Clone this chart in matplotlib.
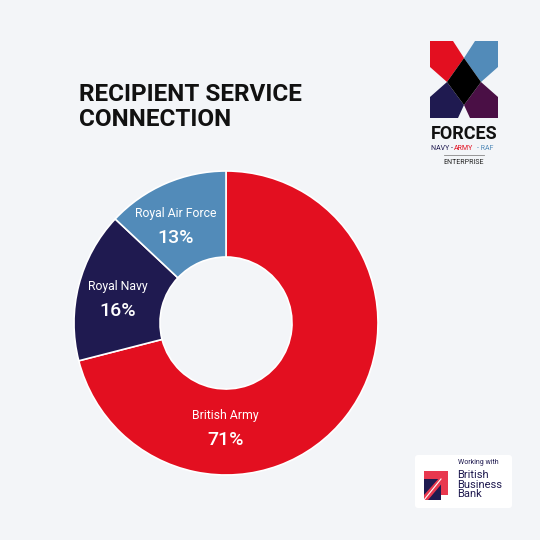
import numpy as np
import matplotlib
matplotlib.use("agg")
from matplotlib import pyplot as plt
from matplotlib.patches import Polygon, FancyBboxPatch, Rectangle

plt.rcParams['font.family'] = ['Roboto', 'DejaVu Sans']

# data
services = ["British Army", "Royal Navy", "Royal Air Force"]
shares = [71, 16, 13]
colors = ["#E30F20", "#1F1A50", "#528BB9"]
# label positions inside the ring (fraction of outer radius)
label_pos = [(-0.005, -0.61), (-0.71, 0.24), (-0.33, 0.72)]

bg = "#F3F5F8"
W = 540

fig = plt.figure(figsize=(5.4, 5.4), dpi=100)
fig.patch.set_facecolor(bg)

# overlay in pixel coordinates for title and logos
ov = fig.add_axes([0, 0, 1, 1])
ov.set_xlim(0, W)
ov.set_ylim(W, 0)
ov.axis("off")
ov.set_facecolor("none")

ov.text(79, 107, "RECIPIENT SERVICE\nCONNECTION", fontsize=17.5, fontweight="semibold",
        color="#111111", va="center", ha="left", linespacing=1.15)

# donut
cx, cy, R = 226, 323, 152
pad = 160
ax = fig.add_axes([(cx - pad) / W, (W - cy - pad) / W, 2 * pad / W, 2 * pad / W])
ax.pie(shares, colors=colors, startangle=90, counterclock=False, radius=1,
       wedgeprops=dict(width=1 - 66 / R, edgecolor="white", linewidth=1.2))
lim = pad / R
ax.set_xlim(-lim, lim)
ax.set_ylim(-lim, lim)
ax.set_aspect("equal")
ax.axis("off")
for name, val, (lx, ly) in zip(services, shares, label_pos):
    ax.text(lx, ly, name, ha="center", va="center", color="white", fontsize=8.8)
    ax.text(lx, ly - 0.16, f"{val}%", ha="center", va="center", color="white",
            fontsize=14, fontweight="medium")

# X FORCES logo
ov.add_patch(Polygon([(430, 41), (453, 41), (464, 58), (447, 82), (430, 67)],
                     color="#E30F20", lw=0))
ov.add_patch(Polygon([(498, 41), (475, 41), (464, 58), (481, 82), (498, 67)],
                     color="#528BB9", lw=0))
ov.add_patch(Polygon([(430, 97), (447, 82), (464, 105), (458, 118), (430, 118)],
                     color="#1F1A50", lw=0))
ov.add_patch(Polygon([(498, 97), (481, 82), (464, 105), (470, 118), (498, 118)],
                     color="#4A0F45", lw=0))
ov.add_patch(Polygon([(464, 58), (481, 82), (464, 105), (447, 82)],
                     color="black", lw=0))
ov.text(464, 134, "FORCES", ha="center", va="center", fontsize=13, fontweight="bold",
        color="#111111")
ov.text(442, 148, "NAVY -", ha="center", va="center", fontsize=5, color="#1F1A50")
ov.text(464, 148, "ARMY", ha="center", va="center", fontsize=5, color="#E30F20")
ov.text(485, 148, "- RAF", ha="center", va="center", fontsize=5, color="#528BB9")
ov.plot([444, 484], [155, 155], color="#888888", lw=0.6)
ov.text(464, 163, "ENTERPRISE", ha="center", va="center", fontsize=5, color="#222222")

# British Business Bank badge
ov.add_patch(FancyBboxPatch((415, 455), 97, 53, boxstyle="round,pad=0,rounding_size=3",
                            facecolor="white", edgecolor="none"))
ov.add_patch(Rectangle((424, 479), 17, 21, facecolor="#1F1A50", lw=0))
ov.add_patch(Rectangle((424, 471), 24, 8, facecolor="#E8384F", lw=0))
ov.add_patch(Rectangle((441, 471), 7, 24, facecolor="#E8384F", lw=0))
ov.add_patch(Polygon([(424, 500), (424, 495), (440, 477), (444, 481), (428, 500)],
                     color="#E8384F", lw=0))
ov.plot([424, 441], [500, 479], color="white", lw=0.8)
ov.text(458, 462, "Working with", fontsize=5, color="#1F1A50", va="center")
ov.text(457, 470, "British\nBusiness\nBank", fontsize=8, color="#1F1A50", va="top",
        linespacing=0.95)

fig.savefig("out.png", dpi=100, facecolor=bg)
